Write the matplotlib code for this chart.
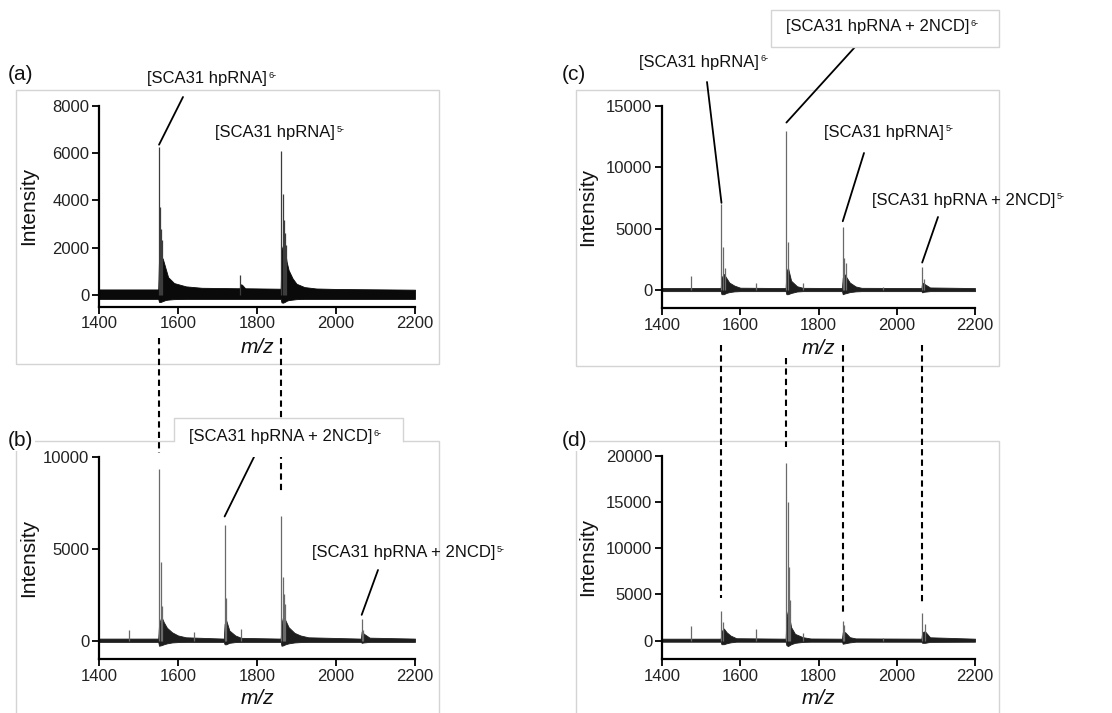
import matplotlib
matplotlib.use("Agg")
import matplotlib.pyplot as plt
from matplotlib.lines import Line2D
from matplotlib.patches import Rectangle
from matplotlib.text import Annotation

plt.rcParams['font.family'] = ['Liberation Sans', 'DejaVu Sans']

W, H = 1112, 713

# ---- spectra: sharp sticks + dense envelope (baseline noise and adduct tails) ----
# (a) hpRNA alone
a_pk_mz = [1552, 1555, 1557, 1560, 1758, 1862, 1865, 1868, 1871, 1874]
a_pk_int = [6250, 3700, 2800, 2300, 860, 6100, 4250, 3150, 2600, 2100]
a_env_mz = [1400, 1550, 1552, 1556, 1562, 1568, 1575, 1590, 1620, 1660,
            1756, 1758, 1762, 1770,
            1860, 1862, 1866, 1870, 1875, 1880, 1890, 1900, 1920, 1950, 2000, 2200]
a_env_hi = [230, 230, 1600, 1700, 1500, 1150, 750, 500, 360, 300,
            280, 450, 430, 280,
            260, 1900, 2100, 2000, 1400, 1050, 700, 470, 330, 270, 250, 220]
a_env_lo = [-170, -170, -300, -300, -260, -220, -200, -180, -170, -170,
            -170, -170, -170, -170,
            -170, -320, -330, -300, -250, -220, -200, -180, -170, -170, -170, -170]

# (b) hpRNA + NCD
b_pk_mz = [1475, 1552, 1556, 1560, 1640, 1718, 1721, 1760, 1862, 1865, 1868, 1872, 2065, 2069]
b_pk_int = [600, 9350, 4270, 1900, 450, 6300, 2300, 650, 6800, 3450, 2550, 2000, 1150, 600]
b_env_mz = [1400, 1550, 1552, 1558, 1564, 1572, 1585, 1600, 1620,
            1716, 1718, 1722, 1730, 1745, 1760,
            1860, 1862, 1866, 1872, 1880, 1895, 1910, 1930,
            2063, 2065, 2070, 2085, 2200]
b_env_hi = [110, 110, 900, 1300, 1000, 700, 450, 280, 180,
            110, 900, 1100, 550, 280, 150,
            110, 900, 1300, 1100, 730, 420, 280, 180,
            110, 500, 380, 160, 110]
b_env_lo = [-70, -70, -280, -250, -200, -150, -100, -80, -70,
            -70, -200, -200, -120, -80, -70,
            -70, -280, -260, -200, -150, -100, -80, -70,
            -70, -120, -100, -70, -70]

# (c)
c_pk_mz = [1475, 1552, 1556, 1560, 1640, 1718, 1721, 1760, 1862, 1866, 1870, 1965, 2065, 2069]
c_pk_int = [1170, 7000, 3460, 1800, 600, 13000, 3870, 550, 5100, 2640, 2230, 250, 1900, 850]
c_env_mz = [1400, 1550, 1552, 1558, 1564, 1572, 1585, 1600,
            1716, 1718, 1722, 1730, 1745, 1760,
            1860, 1862, 1866, 1872, 1880, 1895, 1910,
            2063, 2065, 2070, 2085, 2200]
c_env_hi = [150, 150, 1000, 1300, 1000, 600, 350, 180,
            150, 1500, 1800, 750, 300, 170,
            150, 1000, 1300, 1000, 600, 280, 170,
            150, 600, 500, 200, 150]
c_env_lo = [-100, -100, -350, -350, -250, -180, -120, -100,
            -100, -350, -350, -250, -130, -100,
            -100, -350, -300, -250, -180, -120, -100,
            -100, -200, -150, -100, -100]

# (d)
d_pk_mz = [1475, 1552, 1556, 1640, 1718, 1721, 1724, 1727, 1760, 1862, 1866, 1965, 2065, 2072]
d_pk_int = [1550, 3200, 2000, 1200, 19200, 15000, 7950, 4350, 830, 2070, 1630, 250, 3000, 1800]
d_env_mz = [1400, 1550, 1552, 1558, 1565, 1575, 1590,
            1716, 1718, 1722, 1730, 1740, 1760, 1780,
            1860, 1862, 1868, 1880, 1895,
            2063, 2065, 2072, 2085, 2200]
d_env_hi = [200, 200, 1000, 1300, 900, 540, 250,
            200, 2500, 3260, 1450, 720, 360, 220,
            200, 900, 900, 360, 230,
            200, 900, 1000, 350, 200]
d_env_lo = [-130, -130, -400, -400, -300, -200, -130,
            -130, -500, -600, -400, -250, -150, -130,
            -130, -350, -300, -200, -130,
            -130, -250, -250, -150, -130]

x_ticks = [1400, 1600, 1800, 2000, 2200]
a_yticks = [0, 2000, 4000, 6000, 8000]
b_yticks = [0, 5000, 10000]
c_yticks = [0, 5000, 10000, 15000]
d_yticks = [0, 5000, 10000, 15000, 20000]

ion_free = '[SCA31 hpRNA]'
ion_ncd = '[SCA31 hpRNA + 2NCD]'


def fx(px):
    return px / W


def fy(py):
    return 1 - py / H


fig = plt.figure(figsize=(W / 100, H / 100), dpi=100)

# light frames around each panel
for x0, y0, x1, y1 in [(16, 90, 439, 364), (16, 441, 439, 725),
                       (576, 90, 999, 366), (576, 441, 999, 725)]:
    fig.add_artist(Rectangle((fx(x0), fy(y1)), fx(x1) - fx(x0), fy(y0) - fy(y1),
                             transform=fig.transFigure, fill=False,
                             edgecolor='#d4d4d4', lw=1.0, zorder=0))


def make_axes(left, top, right, bottom, yticks, ybot):
    ax = fig.add_axes([fx(left), fy(bottom), fx(right) - fx(left), fy(top) - fy(bottom)])
    ax.set_xlim(1400, 2200)
    ax.set_ylim(ybot, yticks[-1])
    ax.set_xticks(x_ticks)
    ax.set_yticks(yticks)
    ax.patch.set_alpha(0)
    for s in ['top', 'right']:
        ax.spines[s].set_visible(False)
    for s in ['left', 'bottom']:
        ax.spines[s].set_linewidth(1.6)
    ax.tick_params(direction='out', length=5, width=1.3, labelsize=12,
                   labelcolor='#222222', pad=2)
    return ax


def draw_spectrum(ax, env_mz, env_hi, env_lo, pk_mz, pk_int, band, stick):
    ax.fill_between(env_mz, env_lo, env_hi, color=band, lw=0.6, edgecolor=band)
    ax.vlines(pk_mz, 0, pk_int, color=stick, lw=0.9)


ax_a = make_axes(99, 105.7, 415, 306.7, a_yticks, -500)
ax_b = make_axes(99, 456.7, 415, 659, b_yticks, -1000)
ax_c = make_axes(662, 106, 975, 308.3, c_yticks, -1500)
ax_d = make_axes(662, 455.7, 975, 659, d_yticks, -2000)

draw_spectrum(ax_a, a_env_mz, a_env_hi, a_env_lo, a_pk_mz, a_pk_int, '#0a0a0a', '#3c3c3c')
draw_spectrum(ax_b, b_env_mz, b_env_hi, b_env_lo, b_pk_mz, b_pk_int, '#1e1e1e', '#6a6a6a')
draw_spectrum(ax_c, c_env_mz, c_env_hi, c_env_lo, c_pk_mz, c_pk_int, '#1e1e1e', '#6a6a6a')
draw_spectrum(ax_d, d_env_mz, d_env_hi, d_env_lo, d_pk_mz, d_pk_int, '#1e1e1e', '#6a6a6a')

# axis titles
for ax, ylab_x, mz_y in [(ax_a, 29, 347), (ax_b, 29, 698), (ax_c, 588, 348), (ax_d, 588, 698)]:
    bb = ax.get_position()
    fig.text(ylab_x / W, (bb.y0 + bb.y1) / 2, 'Intensity', rotation=90,
             ha='center', va='center', fontsize=15, color='#111111')
    fig.text((bb.x0 + bb.x1) / 2, fy(mz_y), 'm/z', style='italic',
             ha='center', va='center', fontsize=15, color='#111111')

# panel letters
for lab, px, py in [('(a)', 8, 75), ('(b)', 8, 440), ('(c)', 562, 75), ('(d)', 562, 440)]:
    fig.text(fx(px), fy(py), lab, ha='left', va='center', fontsize=15, color='#111111',
             bbox=dict(facecolor='white', edgecolor='none', pad=1.0))

# white boxes behind two of the ion labels
fig.add_artist(Rectangle((fx(771), fy(47)), fx(999) - fx(771), fy(10) - fy(47),
                         transform=fig.transFigure, facecolor='white',
                         edgecolor='#d4d4d4', lw=1.0, zorder=3))
fig.add_artist(Rectangle((fx(174), fy(457)), fx(403) - fx(174), fy(418) - fy(457),
                         transform=fig.transFigure, facecolor='white',
                         edgecolor='none', zorder=3))
fig.add_artist(Line2D([fx(174), fx(174), fx(403), fx(403)], [fy(441), fy(418), fy(418), fy(441)],
                      transform=fig.transFigure, color='#d4d4d4', lw=1.0, zorder=3.1))


def ion_label(px, py, main, charge):
    t = fig.text(fx(px), fy(py), main, ha='left', va='center', fontsize=12,
                 color='#111111', zorder=4)
    sup = Annotation(charge, xy=(1.0, 0.45), xycoords=t, xytext=(1, 0),
                     textcoords='offset points', fontsize=6.5, ha='left', va='bottom',
                     color='#111111', annotation_clip=False)
    sup.set_zorder(5)
    fig.add_artist(sup)


def leader(ax, px, py, mz, height):
    ax.annotate('', xy=(mz, height), xycoords='data', xytext=(fx(px), fy(py)),
                textcoords='figure fraction', annotation_clip=False,
                arrowprops=dict(arrowstyle='-', color='black', lw=1.3,
                                shrinkA=0, shrinkB=0))


ion_label(147, 79, ion_free, '6-')
leader(ax_a, 183, 97, a_pk_mz[0], a_pk_int[0] + 100)
ion_label(215, 133, ion_free, '5-')

ion_label(189, 437, ion_ncd, '6-')
leader(ax_b, 254, 457, b_pk_mz[5], b_pk_int[5] + 450)
ion_label(312, 553, ion_ncd, '5-')
leader(ax_b, 378, 570, b_pk_mz[12], b_pk_int[12] + 250)

ion_label(639, 62, ion_free, '6-')
leader(ax_c, 707, 82, c_pk_mz[1], c_pk_int[1] + 100)
ion_label(786, 27, ion_ncd, '6-')
leader(ax_c, 855, 47, c_pk_mz[5], c_pk_int[5] + 650)
ion_label(824, 132, ion_free, '5-')
leader(ax_c, 864, 153, c_pk_mz[8], c_pk_int[8] + 500)
ion_label(872, 200, ion_ncd, '5-')
leader(ax_c, 938, 217, c_pk_mz[12], c_pk_int[12] + 330)


# dashed guides linking the same ions in the upper and lower spectra
def guide(ax, mz, y0, y1):
    xd = ax.transData.transform((mz, 0))[0]
    fig.add_artist(Line2D([xd / W, xd / W], [fy(y0), fy(y1)], transform=fig.transFigure,
                          color='black', lw=1.5, linestyle=(0, (3, 2)), zorder=2))


guide(ax_b, b_pk_mz[1], 338, 453)
guide(ax_b, b_pk_mz[8], 338, 493)
guide(ax_d, d_pk_mz[1], 345, 598)
guide(ax_d, d_pk_mz[4], 358, 447)
guide(ax_d, d_pk_mz[9], 345, 613)
guide(ax_d, d_pk_mz[12], 345, 605)

fig.savefig('out.png', dpi=100, facecolor='white')
